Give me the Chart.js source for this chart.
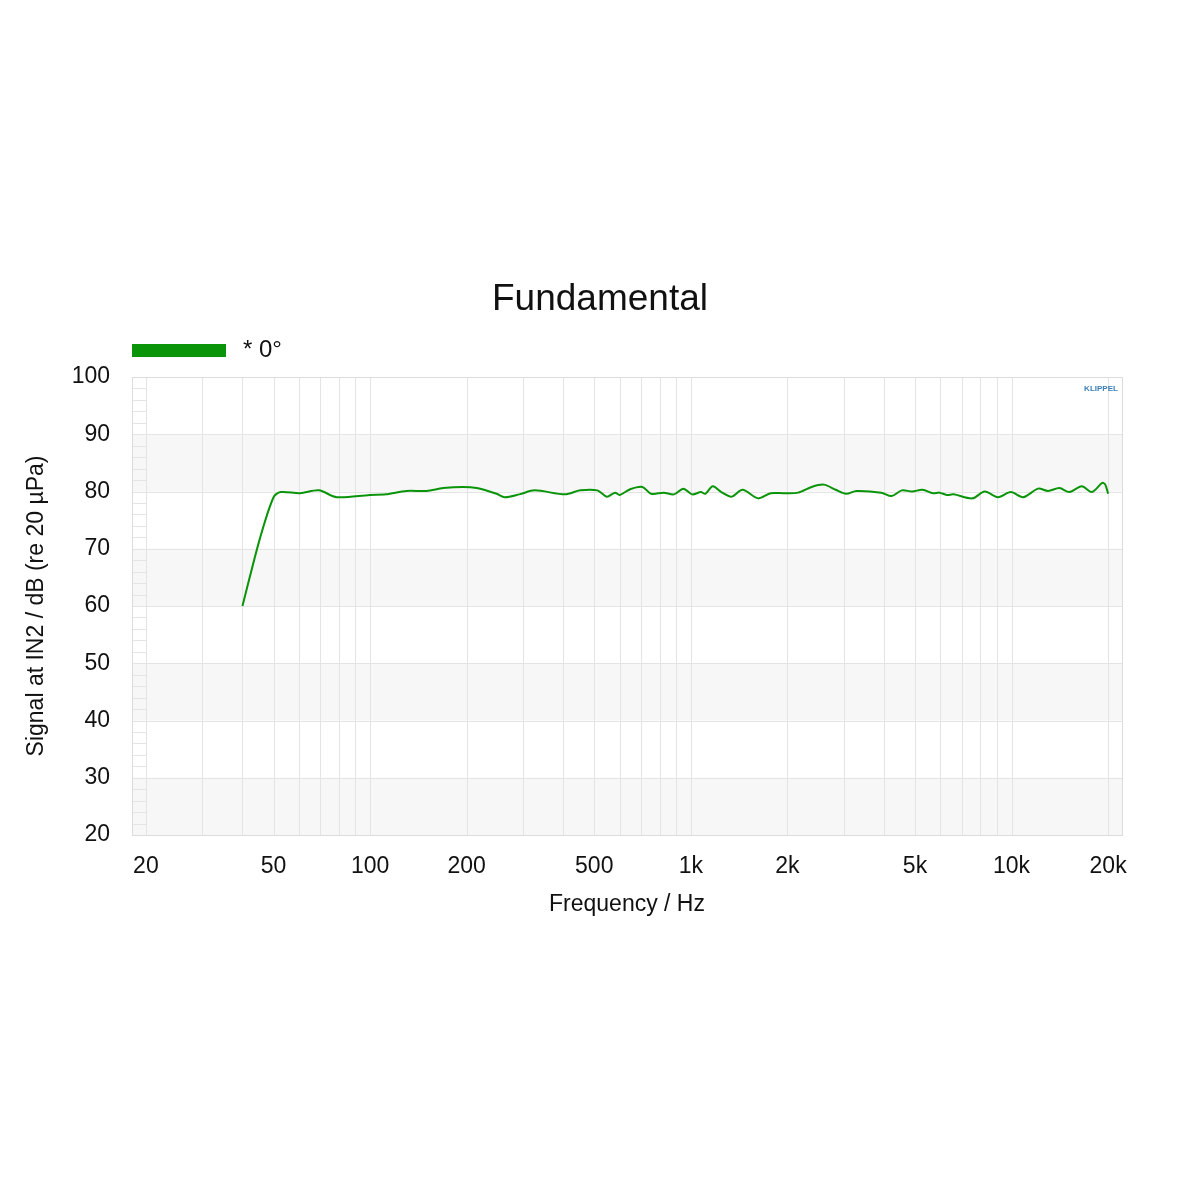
<!DOCTYPE html>
<html>
<head>
<meta charset="utf-8">
<script src="https://cdn.jsdelivr.net/npm/chart.js@4"></script>
<style>
  html, body { margin: 0; padding: 0; background: #fff; }
  #wrap { width: 1200px; height: 1200px; }
</style>
</head>
<body>
<div id="wrap"><canvas id="c" width="1200" height="1200"></canvas></div>
<script>
// frequency response
const freqs = [40, 45.4, 50, 52.6, 60.5, 69.2, 78.7, 99.8, 112, 130, 150, 169, 195, 215, 248, 263, 292, 326,
  405, 452, 511, 547, 580, 600, 647, 707, 752, 823, 886, 948, 1010, 1075, 1110, 1170, 1245, 1340, 1450,
  1620, 1775, 1950, 2160, 2380, 2600, 2830, 3050, 3285, 3925, 4225, 4550, 4900, 5280, 5690, 5960, 6280,
  6600, 7550, 8250, 9070, 9950, 10870, 12100, 13000, 14100, 15150, 16560, 17800, 19180, 19600, 20000];
const levels = [60, 71.9, 79, 79.9, 79.7, 80.2, 79, 79.4, 79.5, 80.1, 80.1, 80.6, 80.8, 80.6, 79.6, 79, 79.5, 80.2,
  79.5, 80.2, 80.2, 79.1, 79.8, 79.4, 80.4, 80.8, 79.6, 79.8, 79.5, 80.5, 79.5, 79.9, 79.6, 80.9, 79.9, 79.1, 80.3,
  78.8, 79.7, 79.7, 79.8, 80.8, 81.2, 80.3, 79.6, 80.1, 79.8, 79.2, 80.2, 80, 80.3, 79.7, 79.8, 79.4,
  79.5, 78.8, 80, 79, 79.9, 79, 80.5, 80.1, 80.6, 79.9, 80.9, 79.9, 81.5, 81.2, 79.6];

const gridFreqs = [20, 30, 40, 50, 60, 70, 80, 90, 100, 200, 300, 400, 500, 600, 700, 800, 900,
  1000, 2000, 3000, 4000, 5000, 6000, 7000, 8000, 9000, 10000, 20000];
const freqLabels = { 20: '20', 50: '50', 100: '100', 200: '200', 500: '500', 1000: '1k', 2000: '2k',
  5000: '5k', 10000: '10k', 20000: '20k' };
const bandsDb = [[20, 30], [40, 50], [60, 70], [80, 90]];

const FONT = 'Arial, "Liberation Sans", sans-serif';
const GREEN = '#0a940a';

const decor = {
  id: 'decor',
  beforeDatasetsDraw(chart) {
    const { ctx, chartArea: a, scales: { x, y } } = chart;
    ctx.save();
    ctx.fillStyle = '#f7f7f7';
    bandsDb.forEach(([lo, hi]) => {
      ctx.fillRect(a.left, y.getPixelForValue(hi), a.right - a.left, y.getPixelForValue(lo) - y.getPixelForValue(hi));
    });
    ctx.strokeStyle = '#e4e4e4';
    ctx.lineWidth = 1;
    const line = (x0, y0, x1, y1) => { ctx.beginPath(); ctx.moveTo(x0, y0); ctx.lineTo(x1, y1); ctx.stroke(); };
    gridFreqs.forEach(f => {
      const px = Math.round(x.getPixelForValue(f)) + 0.5;
      line(px, a.top, px, a.bottom);
    });
    for (let v = 20; v <= 100; v += 10) {
      const py = Math.round(y.getPixelForValue(v)) + 0.5;
      line(a.left, py, a.right, py);
    }
    // minor dB ticks strip on the left
    const xs = Math.round(x.getPixelForValue(20)) + 0.5;
    for (let v = 22; v < 100; v += 2) {
      const py = Math.round(y.getPixelForValue(v)) + 0.5;
      line(a.left, py, xs, py);
    }
    ctx.strokeStyle = '#dcdcdc';
    ctx.strokeRect(Math.round(a.left) + 0.5, Math.round(a.top) + 0.5, Math.round(a.right - a.left), Math.round(a.bottom - a.top));
    ctx.restore();
  },
  afterDraw(chart) {
    const { ctx, chartArea: a } = chart;
    ctx.save();
    ctx.fillStyle = '#111';
    ctx.font = '37px ' + FONT;
    ctx.textAlign = 'center';
    ctx.textBaseline = 'middle';
    ctx.fillText('Fundamental', 600, 300);
    ctx.font = '23px ' + FONT;
    ctx.fillText('Frequency / Hz', 627, 905);
    ctx.save();
    ctx.translate(37, (a.top + a.bottom) / 2);
    ctx.rotate(-Math.PI / 2);
    ctx.fillText('Signal at IN2 / dB (re 20 µPa)', 0, 0);
    ctx.restore();
    ctx.fillStyle = GREEN;
    ctx.fillRect(132, 344, 94, 13);
    ctx.fillStyle = '#111';
    ctx.font = '24px ' + FONT;
    ctx.textAlign = 'left';
    ctx.fillText('* 0°', 243, 350);
    ctx.fillStyle = '#3b7fb5';
    ctx.font = 'bold 8px ' + FONT;
    ctx.textAlign = 'center';
    ctx.fillText('KLIPPEL', a.right - 21, 389);
    ctx.restore();
  }
};

new Chart(document.getElementById('c'), {
  type: 'line',
  data: {
    datasets: [{
      data: freqs.map((f, i) => ({ x: f, y: levels[i] })),
      borderColor: GREEN,
      borderWidth: 2,
      pointRadius: 0,
      tension: 0.3,
      fill: false
    }]
  },
  options: {
    responsive: false,
    animation: false,
    layout: { padding: { top: 377, right: 78, bottom: 265, left: 0 } },
    plugins: { legend: { display: false }, title: { display: false }, tooltip: { enabled: false } },
    scales: {
      x: {
        type: 'logarithmic',
        min: 18.1,
        max: 22100,
        afterFit: s => { s.height = 100; },
        afterBuildTicks: s => { s.ticks = Object.keys(freqLabels).map(v => ({ value: +v })); },
        grid: { display: false },
        border: { display: false },
        ticks: {
          autoSkip: false, maxRotation: 0, padding: 10,
          color: '#111', font: { family: FONT, size: 23 },
          callback: v => freqLabels[v] || ''
        }
      },
      y: {
        min: 20,
        max: 100,
        afterFit: s => { s.width = 132; },
        grid: { display: false },
        border: { display: false },
        ticks: { stepSize: 10, padding: 14, color: '#111', font: { family: FONT, size: 23 } }
      }
    }
  },
  plugins: [decor]
});
</script>
</body>
</html>
